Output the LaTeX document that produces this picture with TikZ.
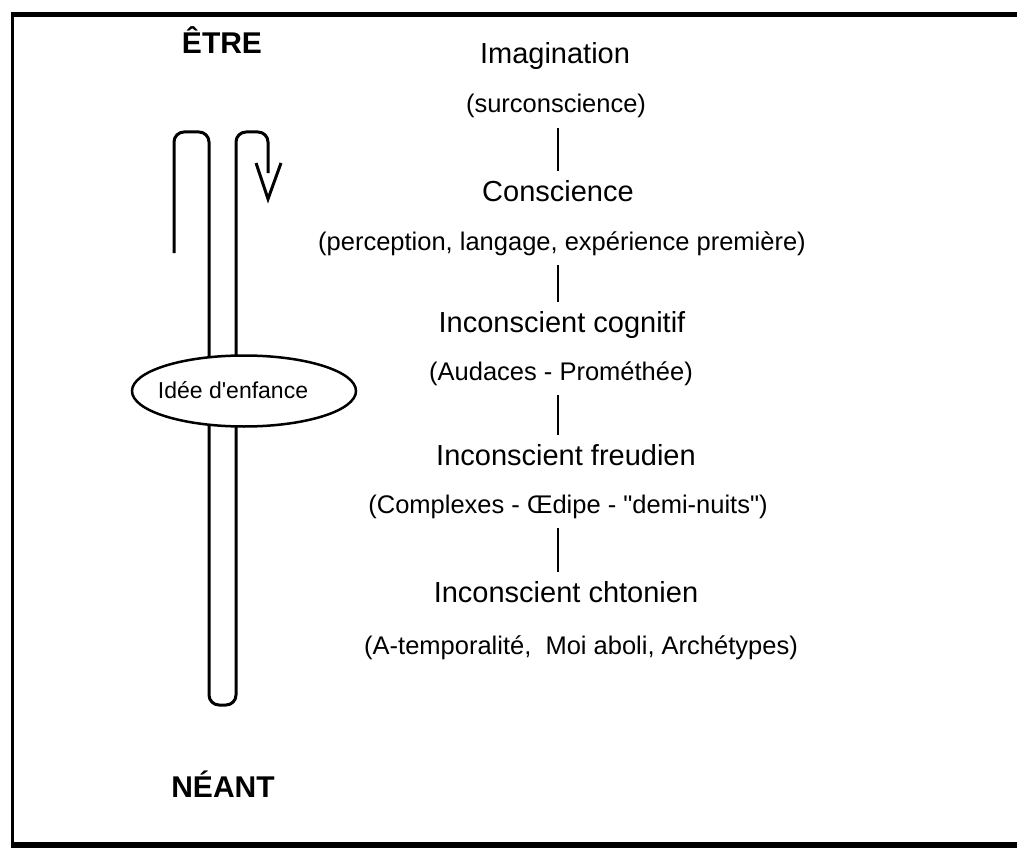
\documentclass[tikz,border=0pt]{standalone}
\usepackage{fontspec}
\setmainfont{Liberation Sans}
\usetikzlibrary{shapes.geometric}
\begin{document}
\begin{tikzpicture}[x=1pt,y=-1pt,
  level/.style={anchor=base, inner sep=0pt, text height=21pt, text depth=6pt,
                font=\fontsize{29}{34}\selectfont},
  note/.style={anchor=base, inner sep=0pt, text height=19pt, text depth=6pt,
               font=\fontsize{25.5}{30}\selectfont},
  pole/.style={anchor=base, inner sep=0pt, font=\fontsize{30}{36}\selectfont\bfseries},
  link/.style={line width=2.5pt, shorten <=9pt, shorten >=9pt},
  loop/.style={line width=3pt, rounded corners=10pt, line join=round},
  tip/.style={line width=3pt, line join=miter},
  bubble/.style={ellipse, draw, line width=2.5pt, fill=white, inner sep=0pt,
                 minimum width=224pt, minimum height=71pt},
  bubbletext/.style={inner sep=0pt, font=\fontsize{23}{27}\selectfont}
]
% page and frame
\fill[white] (0,0) rectangle (1017,848);
\useasboundingbox (0,0) rectangle (1017,848);
\draw[line width=5pt] (11,15) -- (1017,15);
\draw[line width=3.5pt] (12.5,13) -- (12.5,848);
\draw[line width=6pt] (11,844.5) -- (1017,844.5);

% poles of the axis
\node[pole] (etre)   at (222,54)  {ÊTRE};
\node[pole] (neant)  at (223,797) {NÉANT};

% the folded path between being and nothingness
\draw[loop] (174,253) -- (174,132) -- (209,132) -- (209,705) -- (236,705)
            -- (236,132) -- (268,132) -- (268,173);
\draw[tip] (256,163) -- (268,199) -- (281,163);

% childhood idea sitting across the path
\node[bubble] (idee) at (244,391) {};
\node[bubbletext] (ideelabel) at (233,390) {Idée d\textquotesingle enfance};

% levels of consciousness
\coordinate (axis) at (558,0);
\node[level] (l1) at (555,64)  {Imagination};
\node[note]  (n1) at (556,113) {(surconscience)};
\node[level] (l2) at (558,201) {Conscience};
\node[note]  (n2) at (562,250) {(perception, langage, expérience première)};
\node[level] (l3) at (562,332) {Inconscient cognitif};
\node[note]  (n3) at (561,380) {(Audaces - Prométhée)};
\node[level] (l4) at (566,465) {Inconscient freudien};
\node[note]  (n4) at (568,513) {(Complexes - Œdipe - \textquotedbl demi-nuits\textquotedbl)};
\node[level] (l5) at (566,602) {Inconscient chtonien};
\node[note]  (n5) at (581,654) {(A-temporalité,\ \ Moi aboli, Archétypes)};

\draw[link] (n1.south -| axis) -- (l2.north -| axis);
\draw[link] (n2.south -| axis) -- (l3.north -| axis);
\draw[link] (n3.south -| axis) -- (l4.north -| axis);
\draw[link] (n4.south -| axis) -- (l5.north -| axis);
\end{tikzpicture}
\end{document}
